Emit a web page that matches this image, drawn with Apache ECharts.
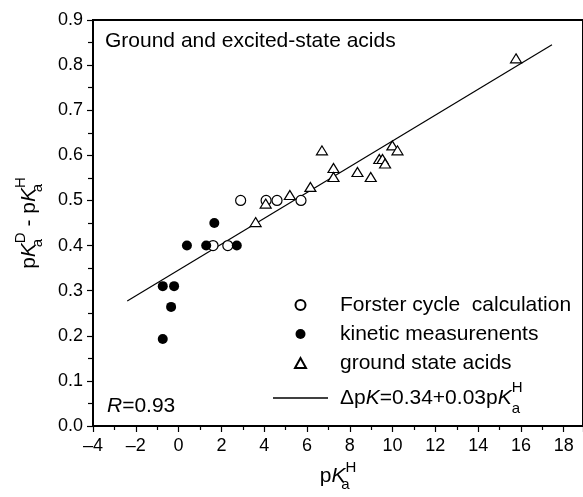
<!DOCTYPE html>
<html>
<head>
<meta charset="utf-8">
<script src="https://cdn.jsdelivr.net/npm/echarts@6/dist/echarts.min.js"></script>
<style>
  html, body { margin: 0; height: 100%; background: #fff; }
  #chart { width: 583px; height: 497px; }
</style>
</head>
<body>
<div id="chart"></div>
<script>
  // values: [pKa(H), pKa(D) - pKa(H)]
  const forsterPts = [
    [2.9, 0.50], [4.09, 0.50], [4.6, 0.50], [5.72, 0.50],
    [1.61, 0.40], [2.3, 0.40]
  ];
  const kineticPts = [
    [-0.74, 0.31], [-0.21, 0.31], [-0.35, 0.264], [-0.74, 0.193],
    [0.39, 0.40], [1.29, 0.40], [1.67, 0.45], [2.72, 0.40]
  ];
  const groundPts = [
    [3.6, 0.452], [4.07, 0.493], [5.2, 0.512], [6.16, 0.53],
    [6.7, 0.611], [7.24, 0.572], [7.24, 0.552], [8.36, 0.563],
    [8.98, 0.552], [9.38, 0.592], [9.53, 0.592], [9.65, 0.582],
    [9.99, 0.622], [10.23, 0.611], [15.77, 0.815]
  ];
  // fitted line end points
  const fitLine = [[-2.4, 0.277], [17.45, 0.845]];

  const seriesNames = ['Forster cycle  calculation', 'kinetic measurenents', 'ground state acids', 'fit'];

  const font = 'Liberation Sans, Arial, sans-serif';
  const rich = {
    t: { fontSize: 21, fontFamily: font, color: '#000' },
    i: { fontSize: 21, fontFamily: font, fontStyle: 'italic', color: '#000' },
    s: { fontSize: 15, fontFamily: font, color: '#000', verticalAlign: 'bottom', width: 0 },
    u: { fontSize: 15, fontFamily: font, color: '#000', verticalAlign: 'top' }
  };
  // same styles for the legend, the fit row taller because of the sub/superscript
  const legendRich = {
    t: { fontSize: 21, fontFamily: font, color: '#000', lineHeight: 36 },
    i: { fontSize: 21, fontFamily: font, fontStyle: 'italic', color: '#000', lineHeight: 36 },
    s: { fontSize: 15, fontFamily: font, color: '#000', verticalAlign: 'bottom', width: 0, lineHeight: 36 },
    u: { fontSize: 15, fontFamily: font, color: '#000', verticalAlign: 'top', lineHeight: 36 }
  };

  const mChart = echarts.init(document.getElementById('chart'), null, { renderer: 'canvas' });

  const option = {
    animation: false,
    grid: {
      left: 93, right: -3, top: 20, bottom: 70,
      show: true, borderColor: '#000', borderWidth: 2
    },
    xAxis: {
      type: 'value', min: -4, max: 18.9, interval: 2,
      name: '{t|p}{i|K}{s|a}{u|H}',
      nameLocation: 'middle', nameGap: 34,
      nameTextStyle: { rich: rich, lineHeight: 32 },
      axisLine: { lineStyle: { color: '#000', width: 2 } },
      axisTick: { inside: false, length: 6, lineStyle: { color: '#000', width: 1.2 } },
      minorTick: { show: true, splitNumber: 2, length: 4, lineStyle: { color: '#000', width: 1.2 } },
      splitLine: { show: false },
      axisLabel: {
        color: '#000', fontSize: 18, fontFamily: font, margin: 11,
        showMaxLabel: false,
        formatter: function (v) { return String(v).replace('-', '\u2013'); }
      }
    },
    yAxis: {
      type: 'value', min: 0, max: 0.9, interval: 0.1,
      name: '{t|p}{i|K}{s|a}{u|D}{t| - p}{i|K}{s|a}{u|H}',
      nameLocation: 'middle', nameGap: 48,
      nameTextStyle: { rich: rich, lineHeight: 32 },
      axisLine: { show: true, onZero: false, lineStyle: { color: '#000', width: 2 } },
      axisTick: { inside: false, length: 6, lineStyle: { color: '#000', width: 1.2 } },
      minorTick: { show: true, splitNumber: 2, length: 5, lineStyle: { color: '#000', width: 1.2 } },
      splitLine: { show: false },
      axisLabel: {
        color: '#000', fontSize: 18, fontFamily: font, margin: 10,
        formatter: function (v) { return v.toFixed(1); }
      }
    },
    legend: {
      orient: 'vertical', left: 268, top: 288,
      itemWidth: 55, itemHeight: 10, itemGap: 5,
      data: [
        { name: seriesNames[0], icon: 'circle' },
        { name: seriesNames[1], icon: 'circle' },
        { name: seriesNames[2], icon: 'path://M0,10L5.5,0L11,10Z' },
        { name: seriesNames[3], icon: 'path://M0,0H55V1.3H0Z' }
      ],
      textStyle: { fontSize: 21, fontFamily: font, color: '#000', lineHeight: 24, padding: [0, 0, 0, 7], rich: legendRich },
      formatter: function (name) {
        if (name === 'fit') return '{t|\u0394p}{i|K}{t|=0.34+0.03p}{i|K}{s|a}{u|H}';
        return name;
      }
    },
    graphic: [
      {
        type: 'text', left: 105, top: 31,
        style: { text: 'Ground and excited-state acids', fontSize: 21, fontFamily: font, fill: '#000' }
      },
      {
        type: 'text', left: 107, top: 396,
        style: { text: '{i|R}{t|=0.93}', rich: rich }
      }
    ],
    series: [
      {
        name: seriesNames[0], type: 'scatter', data: forsterPts,
        symbol: 'circle', symbolSize: 10, z: 3,
        itemStyle: { color: '#fff', borderColor: '#000', borderWidth: 1.2, opacity: 1 }
      },
      {
        name: seriesNames[1], type: 'scatter', data: kineticPts,
        symbol: 'circle', symbolSize: 10, z: 3,
        itemStyle: { color: '#000', opacity: 1 }
      },
      {
        name: seriesNames[2], type: 'scatter', data: groundPts,
        symbol: 'triangle', symbolSize: [11, 9], z: 3,
        itemStyle: { color: '#fff', borderColor: '#000', borderWidth: 1.2, opacity: 1 }
      },
      {
        name: seriesNames[3], type: 'line', data: fitLine,
        symbol: 'none', z: 2,
        itemStyle: { color: '#000' },
        lineStyle: { color: '#000', width: 1.2 }
      }
    ]
  };

  mChart.setOption(option);
  window.addEventListener('resize', mChart.resize);
</script>
</body>
</html>
